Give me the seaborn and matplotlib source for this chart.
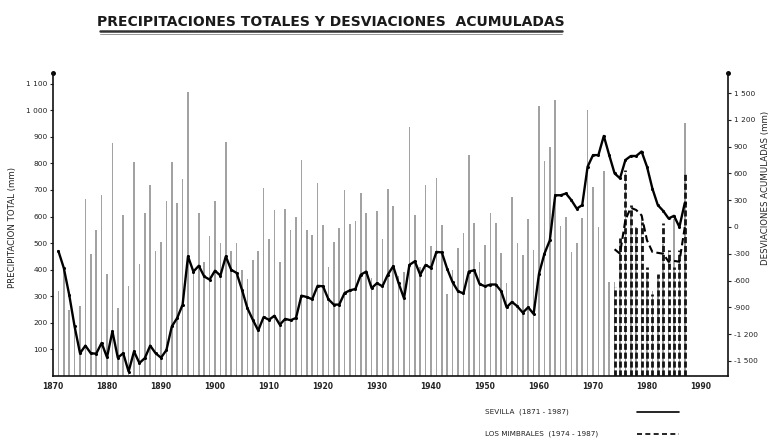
import numpy as np
import matplotlib
matplotlib.use("Agg")
import matplotlib.pyplot as plt
from matplotlib.lines import Line2D
import seaborn as sns

# Sevilla, annual total precipitation (mm), 1871-1987
sevilla_years = list(range(1871, 1988))
sevilla_precip = [
    320, 400, 250, 200, 265, 665, 460, 550, 680,            # 1871-1879
    385, 875, 255, 605, 340, 805, 420, 615, 720, 470,       # 1880s
    505, 660, 805, 650, 740, 1070, 395, 615, 430, 525,      # 1890s
    660, 500, 880, 470, 500, 400, 365, 435, 470, 706,       # 1900s
    515, 625, 430, 630, 549, 600, 813, 549, 530, 725,       # 1910s
    568, 411, 505, 555, 700, 570, 585, 690, 615, 370,       # 1920s
    620, 515, 705, 640, 375, 390, 935, 605, 410, 720,       # 1930s
    490, 744, 568, 310, 398, 480, 537, 832, 577, 430,       # 1940s
    492, 615, 574, 461, 350, 675, 499, 455, 590, 475,       # 1950s
    1015, 810, 860, 1040, 563, 600, 465, 500, 595, 1000,    # 1960s
    710, 560, 773, 355, 355, 505, 765, 605, 560, 610,       # 1970s
    390, 320, 375, 495, 475, 590, 435, 950,                 # 1980-1987
]
# Sevilla, accumulated deviations (mm)
sevilla_cumdev = [
    -270, -460, -760, -1115, -1415, -1330, -1415, -1420, -1300,
    -1460, -1170, -1465, -1415, -1620, -1395, -1525, -1470, -1330, -1415,
    -1465, -1380, -1115, -1020, -870, -330, -500, -435, -555, -590,
    -490, -545, -330, -480, -515, -705, -910, -1040, -1160, -1010,
    -1040, -995, -1095, -1030, -1045, -1020, -770, -785, -810, -660,
    -665, -810, -870, -870, -740, -710, -695, -535, -500, -685,
    -630, -665, -535, -440, -630, -800, -425, -385, -535, -425,
    -460, -280, -285, -470, -620, -720, -745, -500, -485, -640,
    -665, -645, -645, -720, -900, -840, -890, -960, -900, -975,
    -525, -300, -150, 355, 355, 375, 300, 205, 245, 675,
    805, 805, 1020, 805, 600, 545, 750, 795, 795, 845,
    675, 430, 245, 180, 95, 125, 0, 270,
]

# Los Mimbrales, 1974-1987
mimbrales_years = list(range(1974, 1988))
mimbrales_precip = [335, 520, 775, 645, 560, 580, 410, 310, 385, 575, 475, 410, 475, 760]
mimbrales_cumdev = [-250, -300, 80, 215, 190, 130, -150, -280, -290, -300, -390, -380, -390, 0]

left_ticks = [100, 200, 300, 400, 500, 600, 700, 800, 900, 1000, 1100]
left_labels = ["100", "200", "300", "400", "500", "600", "700", "800", "900", "1 000", "1 100"]
right_ticks = [-1500, -1200, -900, -600, -300, 0, 300, 600, 900, 1200, 1500]
right_labels = ["-1 500", "-1 200", "-900", "-600", "-300", "0", "300", "600", "900", "1 200", "1 500"]
decades = list(range(1870, 2000, 10))

sns.set_theme(style="white")
plt.rcParams["font.family"] = ["DejaVu Sans"]

W, H = 774, 448
fig = plt.figure(figsize=(W / 100, H / 100), dpi=100)
ax = fig.add_axes([53 / W, 72 / H, 675 / W, 303 / H])
ax2 = ax.twinx()

# annual totals
ax.bar(sevilla_years, sevilla_precip, width=0.26, color="#a2a2a2", linewidth=0)
ax.vlines(mimbrales_years, 0, mimbrales_precip, colors="#151515",
          linestyles=(0, (2.2, 1.0)), linewidth=2.0)

# accumulated deviations
sns.lineplot(x=sevilla_years, y=sevilla_cumdev, ax=ax2, color="black",
             linewidth=1.7, marker="o", markersize=2.2, markeredgewidth=0)
sns.lineplot(x=mimbrales_years, y=mimbrales_cumdev, ax=ax2, color="black",
             linewidth=1.5, linestyle=(0, (3.5, 1.8)))

ax.set_xlim(1870, 1995)
ax.set_ylim(0, 1140)
ax2.set_ylim(-1670, 1725)

ax.set_xticks(decades)
ax.set_xticklabels([str(d) for d in decades], fontsize=5.5, fontweight="bold", color="#222222")
ax.set_yticks(left_ticks)
ax.set_yticklabels(left_labels, fontsize=5.3, color="#222222")
ax2.set_yticks(right_ticks)
ax2.set_yticklabels(right_labels, fontsize=5.3, color="#222222")
ax.tick_params(axis="both", length=2, width=0.8, pad=2, colors="#222222")
ax2.tick_params(axis="y", length=2, width=0.8, pad=2, colors="#222222")
ax.grid(False)
ax2.grid(False)

for s in ["top", "right"]:
    ax.spines[s].set_visible(False)
for s in ["top", "left", "bottom"]:
    ax2.spines[s].set_visible(False)
for sp in [ax.spines["left"], ax.spines["bottom"], ax2.spines["right"]]:
    sp.set_color("#111111")
    sp.set_linewidth(1.2)

# little dots at the top of both vertical axes
ax.plot([1870], [1140], marker="o", markersize=2.5, color="black", clip_on=False)
ax.plot([1995], [1140], marker="o", markersize=2.5, color="black", clip_on=False)

ax.set_ylabel("PRECIPITACION TOTAL (mm)", fontsize=6.2, color="#222222")
ax.yaxis.set_label_coords(-36 / 675, (375.5 - 227) / 303)
ax2.set_ylabel("DESVIACIONES ACUMULADAS (mm)", fontsize=6.2, color="#222222", rotation=90)
ax2.yaxis.set_label_coords((761 - 53) / 675, (375.5 - 187) / 303)

fig.text(331 / W, 1 - 22 / H, "PRECIPITACIONES TOTALES Y DESVIACIONES  ACUMULADAS",
         ha="center", va="center", fontsize=10, fontweight="bold", color="#1a1a1a")
fig.add_artist(Line2D([100 / W, 562 / W], [1 - 31 / H] * 2, lw=1.8, color="#333333"))
fig.add_artist(Line2D([100 / W, 562 / W], [1 - 34 / H] * 2, lw=0.6, color="#888888"))

# legend
fig.text(485 / W, 1 - 412 / H, "SEVILLA  (1871 - 1987)", fontsize=5.2, va="center", color="#222222")
fig.text(485 / W, 1 - 434 / H, "LOS MIMBRALES  (1974 - 1987)", fontsize=5.2, va="center", color="#222222")
fig.add_artist(Line2D([637 / W, 679 / W], [1 - 412 / H] * 2, lw=1.2, color="black"))
fig.add_artist(Line2D([637 / W, 679 / W], [1 - 434 / H] * 2, lw=1.2, color="black",
                      linestyle=(0, (3, 2))))

fig.savefig("out.png", dpi=100)
